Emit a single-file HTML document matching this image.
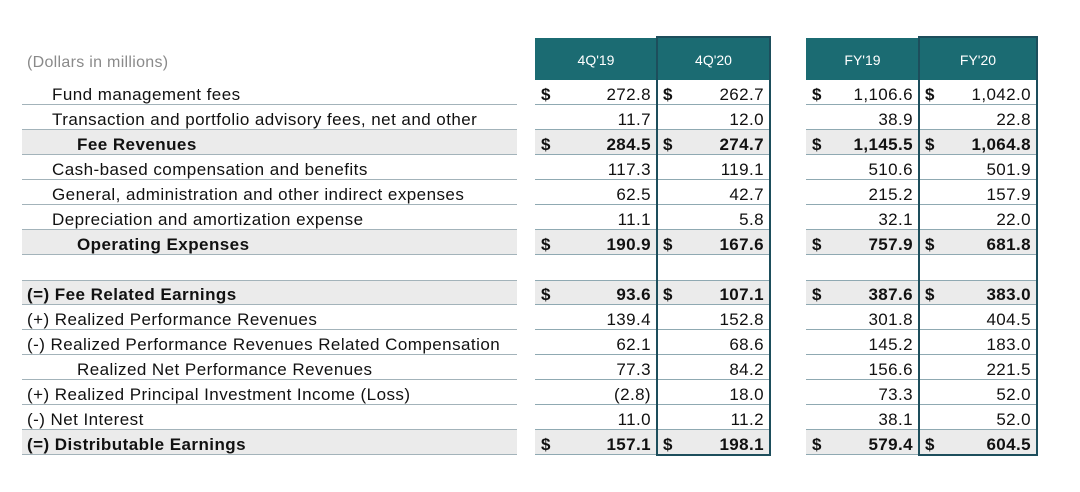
<!DOCTYPE html>
<html><head><meta charset="utf-8">
<style>
body{margin:0;background:#fff;width:1080px;height:492px;overflow:hidden;position:relative;font-family:"Liberation Sans",sans-serif;color:#111}
.a{position:absolute;box-sizing:border-box}
.t{position:absolute;white-space:nowrap;font-size:17px;letter-spacing:0.45px;line-height:25px}
.v{position:absolute;white-space:nowrap;font-size:17px;letter-spacing:0.4px;line-height:25px;text-align:right}
.h{color:#fff;font-size:14px;text-align:center;line-height:44px}
</style></head><body>
<div id="root"></div>
<script>
const labels=["Fund management fees","Transaction and portfolio advisory fees, net and other","Fee Revenues","Cash-based compensation and benefits","General, administration and other indirect expenses","Depreciation and amortization expense","Operating Expenses","","(=) Fee Related Earnings","(+) Realized Performance Revenues","(-) Realized Performance Revenues Related Compensation","Realized Net Performance Revenues","(+) Realized Principal Investment Income (Loss)","(-) Net Interest","(=) Distributable Earnings"];
const indent=[1,1,2,1,1,1,2,0,0,0,0,2,0,0,0];
const bold=[0,0,1,0,0,0,1,0,1,0,0,0,0,0,1];
const dollar=[1,0,1,0,0,0,1,0,1,0,0,0,0,0,1];
const headers=["4Q'19","4Q'20","FY'19","FY'20"];
const q419=["272.8","11.7","284.5","117.3","62.5","11.1","190.9","","93.6","139.4","62.1","77.3","(2.8)","11.0","157.1"];
const q420=["262.7","12.0","274.7","119.1","42.7","5.8","167.6","","107.1","152.8","68.6","84.2","18.0","11.2","198.1"];
const fy19=["1,106.6","38.9","1,145.5","510.6","215.2","32.1","757.9","","387.6","301.8","145.2","156.6","73.3","38.1","579.4"];
const fy20=["1,042.0","22.8","1,064.8","501.9","157.9","22.0","681.8","","383.0","404.5","183.0","221.5","52.0","52.0","604.5"];
const series=[q419,q420,fy19,fy20];
const cols=[[535,657],[657,770],[806,919],[919,1037]];
const rowTop=i=>80+i*25;
const root=document.getElementById('root');
function el(cls,css,txt){const d=document.createElement('div');d.className=cls;d.style.cssText=css;if(txt!==undefined)d.textContent=txt;root.appendChild(d);return d;}
const cap=el('t','left:27px;top:50px;color:#8a8a8a;font-size:16px;letter-spacing:0.3px','(Dollars in millions)');


labels.forEach((lb,i)=>{
  if(i===7)return;
  const y=rowTop(i);
  if(bold[i]){
    const g=el('a',`left:22px;top:${y}px;width:495px;height:25px;background:#ebebeb`);
    
    
    cols.forEach(c=>{el('a',`left:${c[0]}px;top:${y}px;width:${c[1]-c[0]}px;height:25px;background:#ebebeb`);});
  }
  el('a',`left:22px;top:${y+24}px;width:495px;height:1px;background:#a3b3ba`);
  cols.forEach(c=>{el('a',`left:${c[0]}px;top:${y+24}px;width:${c[1]-c[0]}px;height:1px;background:#8fa9b2`);});
  if(i===8){el('a',`left:22px;top:${y}px;width:495px;height:1px;background:#a3b3ba`);cols.forEach(c=>{el('a',`left:${c[0]}px;top:${y}px;width:${c[1]-c[0]}px;height:1px;background:#8fa9b2`);});}
  const lx=indent[i]===2?77:(indent[i]===1?52:27);
  const t=el('t',`left:${lx}px;top:${y+2}px;font-weight:${bold[i]?'bold':'normal'}`,lb);
  
  
  series.forEach((s,k)=>{
    const c=cols[k];
    if(dollar[i]){const d=el('t',`left:${c[0]+6}px;top:${y+2}px;font-weight:bold;font-size:17px`,'$');
      
      }
    const v=el('v',`left:${c[0]}px;width:${c[1]-c[0]-6}px;top:${y+2}px;font-weight:${bold[i]?'bold':'normal'}`,s[i]);
    
    
  });
});
headers.forEach((h,k)=>{
  const c=cols[k];
  const d=el('a h',`left:${c[0]}px;top:38px;width:${c[1]-c[0]}px;height:42px;background:#1b6b72`,h);
  
  
  if(k%2===1){
    const b=el('a',`left:${c[0]-1}px;top:36px;width:${c[1]-c[0]+2}px;height:420px;border:2px solid #1d4e5c`);
    
    
  }
});
</script>
</body></html>
